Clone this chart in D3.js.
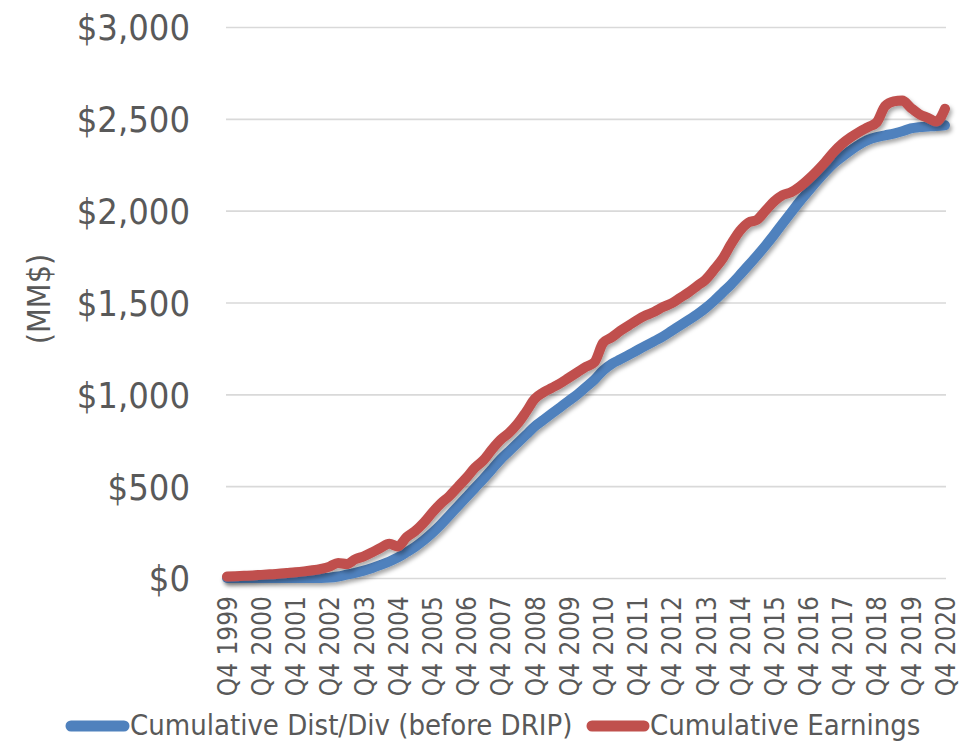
<!DOCTYPE html>
<html>
<head>
<meta charset="utf-8">
<script src="https://cdn.jsdelivr.net/npm/d3@7"></script>
<style>
  body { margin: 0; background: #fff; }
  svg text { font-family: "DejaVu Sans Condensed", "DejaVu Sans", sans-serif; font-stretch: condensed; fill: #595959; }
</style>
</head>
<body>
<div id="chart"></div>
<script>
// categorias trimestrales (Q4 1999 .. Q4 2020)
const quarters = [
  "Q4 1999",
  "Q1 2000","Q2 2000","Q3 2000","Q4 2000","Q1 2001","Q2 2001","Q3 2001","Q4 2001",
  "Q1 2002","Q2 2002","Q3 2002","Q4 2002","Q1 2003","Q2 2003","Q3 2003","Q4 2003",
  "Q1 2004","Q2 2004","Q3 2004","Q4 2004","Q1 2005","Q2 2005","Q3 2005","Q4 2005",
  "Q1 2006","Q2 2006","Q3 2006","Q4 2006","Q1 2007","Q2 2007","Q3 2007","Q4 2007",
  "Q1 2008","Q2 2008","Q3 2008","Q4 2008","Q1 2009","Q2 2009","Q3 2009","Q4 2009",
  "Q1 2010","Q2 2010","Q3 2010","Q4 2010","Q1 2011","Q2 2011","Q3 2011","Q4 2011",
  "Q1 2012","Q2 2012","Q3 2012","Q4 2012","Q1 2013","Q2 2013","Q3 2013","Q4 2013",
  "Q1 2014","Q2 2014","Q3 2014","Q4 2014","Q1 2015","Q2 2015","Q3 2015","Q4 2015",
  "Q1 2016","Q2 2016","Q3 2016","Q4 2016","Q1 2017","Q2 2017","Q3 2017","Q4 2017",
  "Q1 2018","Q2 2018","Q3 2018","Q4 2018","Q1 2019","Q2 2019","Q3 2019","Q4 2019",
  "Q1 2020","Q2 2020","Q3 2020","Q4 2020"
];

// etiquetas visibles del eje X
const xTickLabels = [
  "Q4 1999","Q4 2000","Q4 2001","Q4 2002","Q4 2003","Q4 2004","Q4 2005","Q4 2006",
  "Q4 2007","Q4 2008","Q4 2009","Q4 2010","Q4 2011","Q4 2012","Q4 2013","Q4 2014",
  "Q4 2015","Q4 2016","Q4 2017","Q4 2018","Q4 2019","Q4 2020"
];

const yTicks = [0, 500, 1000, 1500, 2000, 2500, 3000];

// Cumulative Dist/Div (before DRIP), MM$
const distDiv = [
  0,
  0, 0, 0, 0, 0, 0, 0, 0,
  0, 0, 0, 2, 8, 18, 28, 40,
  55, 72, 90, 112, 140, 170, 205, 245,
  290, 340, 390, 440, 490, 540, 592, 645,
  690, 735, 780, 825, 860, 895, 930, 965,
  1000, 1040, 1080, 1130, 1165, 1190, 1215, 1240,
  1265, 1290, 1315, 1345, 1375, 1405, 1435, 1470,
  1510, 1555, 1600, 1650, 1702, 1755, 1810, 1868,
  1930, 1990, 2050, 2105, 2160, 2212, 2258, 2295,
  2330, 2360, 2385, 2400, 2410, 2420, 2432, 2448,
  2455, 2458, 2461, 2465
];

// Cumulative Earnings, MM$
const earnings = [
  8,
  10, 12, 14, 17, 20, 23, 27, 31,
  36, 42, 50, 62, 82, 76, 102, 118,
  140, 165, 186, 172, 222, 255, 300, 355,
  405, 445, 495, 545, 600, 641, 700, 752,
  790, 840, 905, 975, 1010, 1035, 1060, 1090,
  1120, 1150, 1175, 1280, 1310, 1345, 1375, 1405,
  1430, 1450, 1475, 1495, 1525, 1555, 1590, 1625,
  1680, 1740, 1820, 1890, 1935, 1950, 2000, 2050,
  2085, 2100, 2130, 2170, 2215, 2265, 2320, 2365,
  2400, 2430, 2455, 2480, 2570, 2595, 2600, 2560,
  2525, 2505, 2485, 2555
];

const seriesNames = ["Cumulative Dist/Div (before DRIP)", "Cumulative Earnings"];
const seriesColors = ["#4f81bd", "#c0504d"];

const width = 964, height = 743;
const plot = {left: 226, right: 946, top: 27, bottom: 578};

const svg = d3.select("#chart").append("svg")
  .attr("width", width)
  .attr("height", height);

// sombra suave tipo Excel
const defs = svg.append("defs");
const filter = defs.append("filter")
  .attr("id", "shadow")
  .attr("x", "-5%").attr("y", "-5%")
  .attr("width", "115%").attr("height", "120%");
filter.append("feDropShadow")
  .attr("dx", 2).attr("dy", 3)
  .attr("stdDeviation", 2)
  .attr("flood-color", "#000")
  .attr("flood-opacity", 0.35);

const x = d3.scalePoint()
  .domain(quarters)
  .range([plot.left + 1, plot.right - 1]);

const y = d3.scaleLinear()
  .domain([0, 3000])
  .range([plot.bottom, plot.top]);

// lineas de cuadricula + etiquetas Y
const yAxis = svg.append("g")
  .attr("transform", `translate(${plot.left},0)`)
  .call(d3.axisLeft(y)
    .tickValues(yTicks)
    .tickSize(-(plot.right - plot.left))
    .tickPadding(36)
    .tickFormat(d => "$" + d3.format(",")(d)));
yAxis.select(".domain").remove();
yAxis.selectAll(".tick line")
  .attr("stroke", "#d9d9d9")
  .attr("stroke-width", 1.6);
yAxis.selectAll(".tick text")
  .attr("fill", "#595959")
  .style("font-size", "36px")
  .attr("dy", "0.36em");

// eje X con etiquetas rotadas
const xAxis = svg.append("g")
  .attr("transform", `translate(0,${plot.bottom})`)
  .call(d3.axisBottom(x).tickValues(xTickLabels).tickSize(0));
xAxis.select(".domain").remove();
xAxis.selectAll(".tick text")
  .attr("fill", "#595959")
  .style("font-size", "26px")
  .attr("transform", "rotate(-90)")
  .attr("text-anchor", "end")
  .attr("x", -18)
  .attr("y", 0)
  .attr("dy", "0.36em");

// titulo del eje Y
svg.append("text")
  .attr("transform", "translate(38,299) rotate(-90)")
  .attr("text-anchor", "middle")
  .attr("dy", "0.36em")
  .style("font-size", "32px")
  .text("(MM$)");

// series
const line = d3.line()
  .x((d, i) => x(quarters[i]))
  .y(d => y(d))
  .curve(d3.curveMonotoneX);

[distDiv, earnings].forEach((values, k) => {
  svg.append("path")
    .datum(values)
    .attr("fill", "none")
    .attr("stroke", seriesColors[k])
    .attr("stroke-width", 10)
    .attr("stroke-linejoin", "round")
    .attr("stroke-linecap", "round")
    .attr("filter", "url(#shadow)")
    .attr("d", line);
});

// leyenda
const legendItems = [
  {x0: 71, x1: 124, tx: 130},
  {x0: 592, x1: 644, tx: 650}
];
legendItems.forEach((it, k) => {
  svg.append("line")
    .attr("x1", it.x0).attr("x2", it.x1)
    .attr("y1", 726).attr("y2", 726)
    .attr("stroke", seriesColors[k])
    .attr("stroke-width", 11)
    .attr("stroke-linecap", "round");
  svg.append("text")
    .attr("x", it.tx)
    .attr("y", 735)
    .style("font-size", "29px")
    .text(seriesNames[k]);
});
</script>
</body>
</html>
